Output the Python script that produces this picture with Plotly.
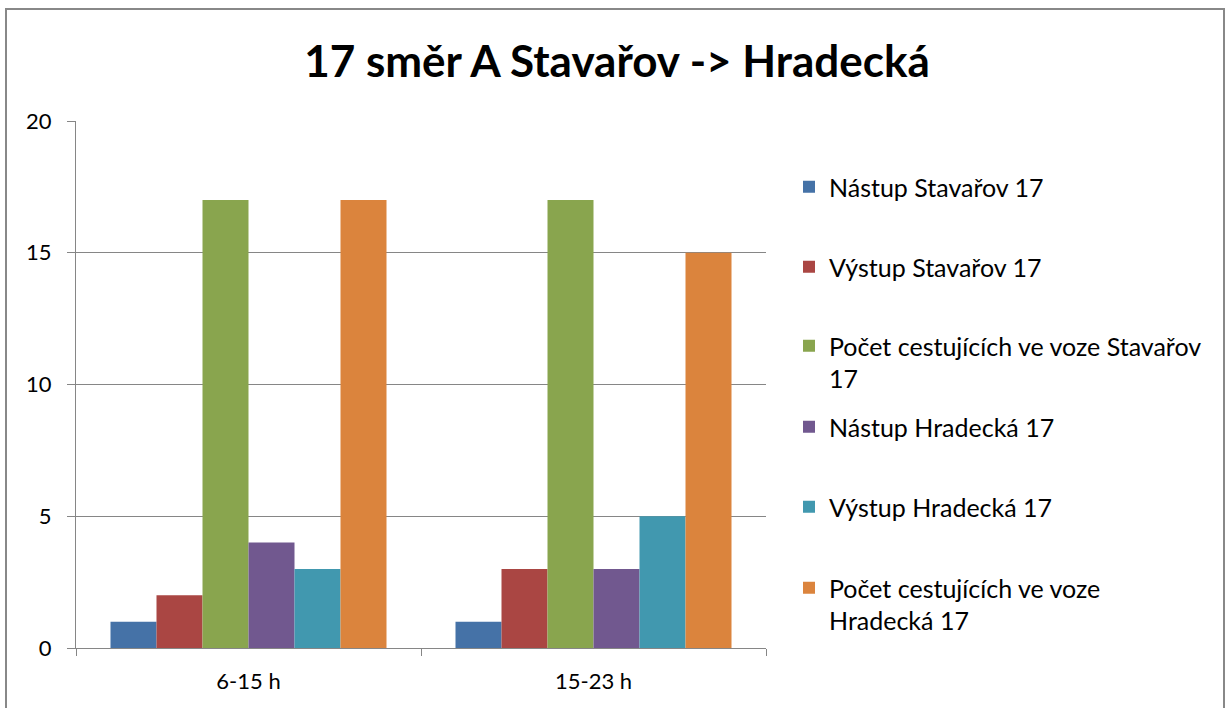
import plotly.graph_objects as go

categories = ["6-15 h", "15-23 h"]
series_names = [
    "Nástup Stavařov 17",
    "Výstup Stavařov 17",
    "Počet cestujících ve voze Stavařov<br>17",
    "Nástup Hradecká 17",
    "Výstup Hradecká 17",
    "Počet cestujících ve voze<br>Hradecká 17",
]
nastup_stavarov = [1, 1]
vystup_stavarov = [2, 3]
pocet_stavarov = [17, 17]
nastup_hradecka = [4, 3]
vystup_hradecka = [3, 5]
pocet_hradecka = [17, 15]
series_values = [nastup_stavarov, vystup_stavarov, pocet_stavarov,
                 nastup_hradecka, vystup_hradecka, pocet_hradecka]
colors = ["#4572A7", "#AA4643", "#89A54E", "#71588F", "#4198AF", "#DB843D"]

FONT = "Lato"

L, R, T, B = 76, 766, 121, 648
W, H = 1230, 708
pw, ph = R - L, B - T

# first-line centre of each legend entry (pixels from top)
legend_centres = [186, 266, 345, 426, 506, 587]
legend_keys = ["legend", "legend2", "legend3", "legend4", "legend5", "legend6"]

fig = go.Figure()
for i, (name, vals, col) in enumerate(zip(series_names, series_values, colors)):
    fig.add_trace(go.Bar(
        x=categories, y=vals, name=name, marker_color=col,
        marker_line_width=0, legend=legend_keys[i],
    ))

layout_legends = {}
for key, cy in zip(legend_keys, legend_centres):
    layout_legends[key] = dict(
        x=(789 - L) / pw, xanchor="left",
        y=(B - (cy - 22)) / ph, yanchor="top",
        valign="top", font=dict(size=25, family=FONT, color="black"),
        bgcolor="rgba(0,0,0,0)", itemwidth=30,
    )

fig.update_layout(
    width=W, height=H,
    margin=dict(l=L, r=W - R, t=T, b=H - B),
    paper_bgcolor="white", plot_bgcolor="white",
    barmode="group", bargap=0.2, bargroupgap=0,
    font=dict(family=FONT, size=22, color="black"),
    title=dict(text="<b>17 směr A Stavařov -> Hradecká</b>",
               x=617 / W, xanchor="center", y=1 - 62 / H, yanchor="middle",
               font=dict(size=44, family=FONT, color="black")),
    showlegend=True,
    **layout_legends,
)
fig.update_xaxes(
    type="category", showline=True, linecolor="#868686", linewidth=1,
    ticks="outside", tickson="boundaries", ticklen=7, tickcolor="#868686",
    showgrid=False, tickfont=dict(size=22), ticklabelstandoff=14,
)
fig.update_yaxes(
    range=[0, 20], dtick=5, showline=True, linecolor="#868686", linewidth=1,
    ticks="outside", ticklen=8, tickcolor="#868686",
    showgrid=True, gridcolor="#868686", gridwidth=1, zeroline=False,
    tickfont=dict(size=22), ticklabelstandoff=11,
)
# outer chart border
fig.add_shape(type="rect", xref="paper", yref="paper",
              x0=(6 - L) / pw, x1=(1224 - L) / pw,
              y0=-(H - B + 20) / ph, y1=(B - 9) / ph,
              line=dict(color="#888888", width=2), fillcolor="rgba(0,0,0,0)",
              layer="below")

fig.write_html("out.html", config={"displayModeBar": False},
               post_script="document.body.style.margin='0px';")
